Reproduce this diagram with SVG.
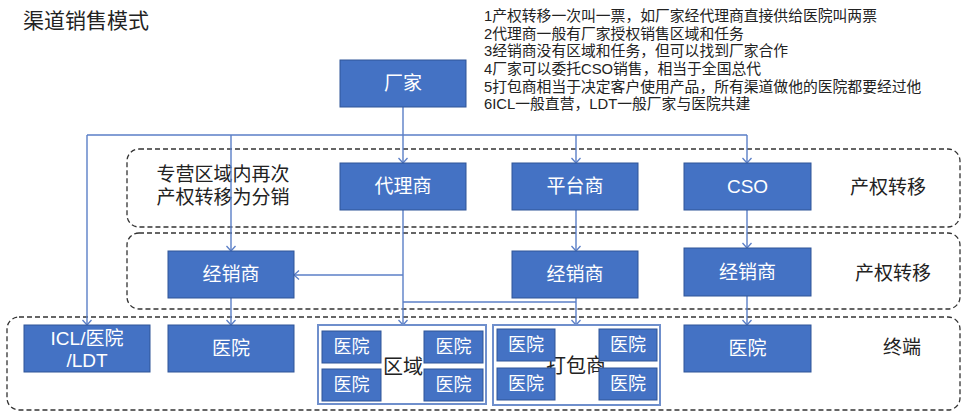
<svg xmlns="http://www.w3.org/2000/svg" width="968" height="413" viewBox="0 0 968 413">
<style>
text{font-family:"Liberation Sans","Noto Sans CJK SC",sans-serif;}
.box{fill:#4472C4;stroke:#2F5597;stroke-width:1;}
.bt{fill:#fff;font-size:19px;text-anchor:middle;dominant-baseline:central;}
.st{fill:#fff;font-size:18px;text-anchor:middle;dominant-baseline:central;}
.lbl{fill:#222;font-size:19px;text-anchor:middle;dominant-baseline:central;}
.zone{fill:none;stroke:#333;stroke-width:1.3;stroke-dasharray:5 3;}
.cont{fill:#fff;stroke:#6F8FCC;stroke-width:2;}
.con{fill:none;stroke:#5B7FC7;stroke-width:1.4;}
.note{fill:#222;font-size:14.8px;}
</style>
<defs>
<marker id="arr" markerUnits="userSpaceOnUse" markerWidth="12" markerHeight="12" refX="6" refY="6" orient="auto">
<path d="M1,1.5 L6,6 L1,10.5" fill="none" stroke="#5B7FC7" stroke-width="1.3"/>
</marker>
</defs>
<rect width="968" height="413" fill="#fff"/>
<text x="23" y="28" style="font-size:21px;fill:#222">渠道销售模式</text>
<g id="notes">
<text class="note" x="484" y="21">1产权转移一次叫一票，如厂家经代理商直接供给医院叫两票</text>
<text class="note" x="484" y="39">2代理商一般有厂家授权销售区域和任务</text>
<text class="note" x="484" y="56">3经销商没有区域和任务，但可以找到厂家合作</text>
<text class="note" x="484" y="74">4厂家可以委托CSO销售，相当于全国总代</text>
<text class="note" x="484" y="92">5打包商相当于决定客户使用产品，所有渠道做他的医院都要经过他</text>
<text class="note" x="484" y="109">6ICL一般直营，LDT一般厂家与医院共建</text>
</g>
<g id="zones">
<rect class="zone" x="127" y="149" width="833" height="78" rx="12"/>
<rect class="zone" x="127" y="233" width="833" height="76" rx="12"/>
<rect class="zone" x="7" y="317" width="953" height="93" rx="12"/>
<text class="lbl" x="223" y="174">专营区域内再次</text>
<text class="lbl" x="223" y="197">产权转移为分销</text>
<text class="lbl" x="888" y="187">产权转移</text>
<text class="lbl" x="893" y="273">产权转移</text>
<text class="lbl" x="902" y="347">终端</text>
</g>
<g id="connectors">
<path class="con" d="M403,107 V135 M87,135 H747"/>
<path class="con" d="M87,135 V325" marker-end="url(#arr)"/>
<path class="con" d="M231,135 V251" marker-end="url(#arr)"/>
<path class="con" d="M403,135 V163" marker-end="url(#arr)"/>
<path class="con" d="M576,135 V163" marker-end="url(#arr)"/>
<path class="con" d="M747,135 V163" marker-end="url(#arr)"/>
<path class="con" d="M403,210 V325" marker-end="url(#arr)"/>
<path class="con" d="M403,275 H294" marker-end="url(#arr)"/>
<path class="con" d="M403,302 H576"/>
<path class="con" d="M576,298 V325" marker-end="url(#arr)"/>
<path class="con" d="M576,210 V251" marker-end="url(#arr)"/>
<path class="con" d="M747,210 V248" marker-end="url(#arr)"/>
<path class="con" d="M747,296 V325" marker-end="url(#arr)"/>
<path class="con" d="M231,298 V325" marker-end="url(#arr)"/>
</g>
<g id="changjia"><rect class="box" x="340" y="60" width="126" height="47"/><text class="bt" x="403" y="83.5">厂家</text></g>
<g id="dailishang"><rect class="box" x="340" y="163" width="126" height="47"/><text class="bt" x="403" y="186.5">代理商</text></g>
<g id="pingtaishang"><rect class="box" x="512" y="163" width="126" height="47"/><text class="bt" x="575" y="186.5">平台商</text></g>
<g id="cso"><rect class="box" x="684" y="163" width="127" height="47"/><text class="bt" x="747.5" y="186.5">CSO</text></g>
<g id="jxs1"><rect class="box" x="168" y="251" width="126" height="47"/><text class="bt" x="231" y="274.5">经销商</text></g>
<g id="jxs2"><rect class="box" x="512" y="251" width="126" height="47"/><text class="bt" x="575" y="274.5">经销商</text></g>
<g id="jxs3"><rect class="box" x="684" y="248" width="127" height="48"/><text class="bt" x="747.5" y="272">经销商</text></g>
<g id="icl"><rect class="box" x="24" y="325" width="126" height="47"/><text class="bt" x="87" y="338">ICL/医院</text><text class="bt" x="87" y="360">/LDT</text></g>
<g id="yy1"><rect class="box" x="168" y="325" width="126" height="47"/><text class="bt" x="231" y="348.5">医院</text></g>
<g id="quyu">
<rect class="cont" x="318" y="325" width="168" height="79"/>
<text class="lbl" x="403" y="367" style="font-size:20px">区域</text>
<rect class="box" x="322" y="331" width="59" height="32"/><text class="st" x="351.5" y="347">医院</text>
<rect class="box" x="322" y="369" width="59" height="32"/><text class="st" x="351.5" y="385">医院</text>
<rect class="box" x="424" y="331" width="59" height="32"/><text class="st" x="453.5" y="347">医院</text>
<rect class="box" x="424" y="369" width="59" height="32"/><text class="st" x="453.5" y="385">医院</text>
</g>
<g id="dabaoshang">
<rect class="cont" x="493" y="325" width="167" height="80"/>
<text class="lbl" x="576" y="366" style="font-size:20px">打包商</text>
<rect class="box" x="497" y="329" width="58" height="32"/><text class="st" x="526" y="345">医院</text>
<rect class="box" x="497" y="368" width="58" height="32"/><text class="st" x="526" y="384">医院</text>
<rect class="box" x="599" y="329" width="58" height="32"/><text class="st" x="628" y="345">医院</text>
<rect class="box" x="599" y="368" width="58" height="32"/><text class="st" x="628" y="384">医院</text>
</g>
<g id="yy2"><rect class="box" x="684" y="325" width="127" height="47"/><text class="bt" x="747.5" y="348.5">医院</text></g>
</svg>
